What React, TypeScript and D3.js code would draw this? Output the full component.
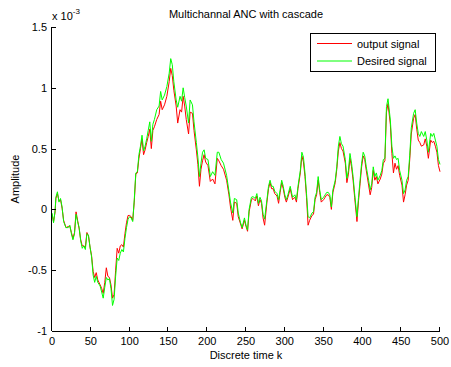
import React from "react";
import * as d3 from "d3";

const sampleK = [0,2,4,5,7,9,11,13,15,18,21,23,25,27,29,31,33,35,37,39,41,43,45,47,49,51,53,55,57,59,62,64,66,68,70,72,74,76,78,80,82,84,86,88,90,92,94,96,98,100,102,104,106,108,110,112,114,116,118,120,122,124,126,128,130,132,135,138,140,142,145,148,151,153,155,157,160,162,165,167,169,171,173,176,178,181,183,186,188,190,192,194,196,198,201,204,207,210,213,215,218,221,225,228,230,233,235,238,240,243,245,248,250,252,254,257,259,262,264,266,268,270,272,274,277,279,281,283,285,287,290,292,294,296,298,300,302,304,307,310,313,315,317,320,322,324,326,328,330,332,335,337,339,341,343,345,347,350,352,354,356,358,360,362,365,367,369,371,373,375,378,380,382,384,386,388,390,393,395,397,399,401,403,405,408,410,412,414,416,418,420,423,425,427,429,431,433,436,438,440,442,444,446,448,451,453,455,457,459,461,463,466,468,470,472,474,476,479,481,483,485,488,490,492,494,496,498,500];

// Desired signal (x 1e-3)
const desired = [-0.03,-0.11,-0.01,0.10,0.145,0.06,0.09,0.02,-0.10,-0.15,-0.15,-0.13,-0.20,-0.25,-0.20,-0.04,-0.10,-0.15,-0.26,-0.32,-0.30,-0.33,-0.20,-0.21,-0.31,-0.39,-0.54,-0.60,-0.55,-0.60,-0.63,-0.68,-0.73,-0.64,-0.56,-0.58,-0.57,-0.65,-0.79,-0.74,-0.55,-0.40,-0.42,-0.36,-0.33,-0.35,-0.24,-0.15,-0.08,-0.06,-0.07,-0.10,0.08,0.30,0.31,0.45,0.52,0.61,0.48,0.52,0.58,0.65,0.72,0.56,0.70,0.74,0.82,0.85,0.97,0.90,0.94,1.01,1.12,1.24,1.19,1.05,0.90,0.84,0.93,0.89,1.00,0.92,0.85,0.71,0.90,0.86,0.72,0.55,0.43,0.27,0.38,0.47,0.49,0.42,0.41,0.27,0.31,0.28,0.47,0.47,0.41,0.38,0.28,0.15,0.06,-0.03,0.09,0.08,-0.03,-0.11,-0.15,-0.07,-0.13,-0.17,0.00,0.10,0.105,0.09,0.13,0.05,0.10,0.07,-0.04,-0.08,0.08,0.19,0.24,0.19,0.19,0.15,0.13,0.08,0.16,0.24,0.19,0.12,0.08,0.12,0.19,0.10,0.12,0.08,0.19,0.32,0.47,0.43,0.30,0.13,-0.06,-0.07,-0.03,-0.02,0.10,0.14,0.27,0.16,0.08,0.10,0.12,0.14,0.14,0.12,0.02,0.16,0.24,0.35,0.52,0.60,0.54,0.52,0.41,0.255,0.32,0.46,0.38,0.27,0.13,-0.06,0.10,0.24,0.38,0.47,0.44,0.35,0.24,0.16,0.21,0.35,0.27,0.30,0.24,0.28,0.32,0.41,0.42,0.845,0.91,0.735,0.52,0.42,0.44,0.41,0.42,0.32,0.24,0.13,0.16,0.24,0.27,0.445,0.67,0.79,0.82,0.71,0.625,0.60,0.64,0.60,0.64,0.57,0.47,0.625,0.60,0.625,0.57,0.52,0.41,0.37];

// Output signal (x 1e-3)
const output = [-0.04,-0.10,-0.02,0.09,0.13,0.07,0.08,0.01,-0.09,-0.15,-0.14,-0.14,-0.19,-0.24,-0.19,-0.02,-0.09,-0.16,-0.25,-0.30,-0.30,-0.31,-0.19,-0.22,-0.31,-0.38,-0.51,-0.56,-0.52,-0.58,-0.62,-0.65,-0.69,-0.60,-0.48,-0.55,-0.56,-0.62,-0.73,-0.70,-0.50,-0.32,-0.36,-0.30,-0.29,-0.31,-0.20,-0.11,-0.05,-0.05,-0.06,-0.09,0.06,0.29,0.30,0.42,0.50,0.58,0.45,0.49,0.55,0.60,0.66,0.50,0.65,0.68,0.74,0.78,0.89,0.82,0.86,0.93,1.05,1.16,1.10,0.98,0.85,0.71,0.82,0.80,0.93,0.85,0.74,0.62,0.80,0.79,0.65,0.49,0.37,0.19,0.33,0.40,0.45,0.39,0.36,0.23,0.25,0.21,0.42,0.40,0.36,0.33,0.24,0.12,0.02,-0.09,0.06,0.05,-0.06,-0.12,-0.16,-0.09,-0.14,-0.18,-0.02,0.08,0.09,0.07,0.11,0.03,0.08,0.05,-0.07,-0.13,0.06,0.17,0.22,0.17,0.17,0.13,0.11,0.05,0.14,0.22,0.17,0.10,0.06,0.10,0.17,0.08,0.10,0.06,0.17,0.30,0.44,0.39,0.27,0.10,-0.13,-0.09,-0.05,-0.04,0.08,0.12,0.24,0.14,0.06,0.08,0.10,0.12,0.12,0.10,0.00,0.14,0.22,0.33,0.48,0.55,0.50,0.48,0.38,0.22,0.29,0.42,0.35,0.24,0.10,-0.10,0.07,0.21,0.35,0.44,0.41,0.32,0.20,0.12,0.18,0.32,0.24,0.27,0.21,0.25,0.29,0.38,0.40,0.80,0.87,0.70,0.46,0.30,0.38,0.33,0.36,0.28,0.20,0.06,0.12,0.20,0.24,0.41,0.62,0.75,0.78,0.66,0.57,0.55,0.52,0.53,0.58,0.52,0.42,0.57,0.55,0.56,0.52,0.47,0.36,0.31];

const xTicks = [0, 50, 100, 150, 200, 250, 300, 350, 400, 450, 500];
const yTicks = [-1, -0.5, 0, 0.5, 1, 1.5];
const legendLabels = ["output signal", "Desired signal"];
const seriesColors = ["#ff0000", "#00ff00"];

const W = 451;
const H = 367;
const margin = { left: 52, right: 11, top: 27, bottom: 36 };
const FONT = "'Liberation Sans', Arial, sans-serif";

export default function App() {
  const x = d3.scaleLinear().domain([0, 500]).range([margin.left, W - margin.right]);
  const y = d3.scaleLinear().domain([-1, 1.5]).range([H - margin.bottom, margin.top]);
  const line = d3
    .line<number>()
    .x((_, i) => x(sampleK[i]))
    .y((d) => y(d));
  const series = [output, desired];
  const x0 = x(0);
  const y0 = y(-1);
  const tick = 4;
  const lx = 310, ly = 33, lw = 125, lh = 38;
  return (
    <svg
      width={W}
      height={H}
      style={{ position: "absolute", left: 0, top: 0, background: "#fff" }}
      fontFamily={FONT}
      fontSize={11}
    >
      <rect x={0} y={0} width={W} height={H} fill="#fff" />
      {series.map((s, i) => (
        <path key={i} d={line(s) || ""} fill="none" stroke={seriesColors[i]} strokeWidth={1} strokeLinejoin="round" />
      ))}
      {/* axes */}
      <line x1={x0} x2={x(500)} y1={y0 + 0.5} y2={y0 + 0.5} stroke="#000" />
      <line x1={x0 - 0.5} x2={x0 - 0.5} y1={y(1.5)} y2={y0} stroke="#000" />
      {xTicks.map((t) => (
        <g key={"x" + t}>
          <line x1={Math.round(x(t)) - 0.5} x2={Math.round(x(t)) - 0.5} y1={y0} y2={y0 - tick} stroke="#000" />
          <text x={x(t)} y={y0 + 14} textAnchor="middle" fill="#000">{t}</text>
        </g>
      ))}
      {yTicks.map((t) => (
        <g key={"y" + t}>
          <line x1={x0} x2={x0 + tick} y1={Math.round(y(t)) + 0.5} y2={Math.round(y(t)) + 0.5} stroke="#000" />
          <text x={x0 - 5} y={y(t) + 4} textAnchor="end" fill="#000">{t}</text>
        </g>
      ))}
      <text x={x0} y={20} fill="#000">
        x 10
        <tspan dy={-6} fontSize={8}>-3</tspan>
      </text>
      <text x={(x0 + x(500)) / 2} y={18} textAnchor="middle" fill="#000">Multichannal ANC with cascade</text>
      <text x={(x0 + x(500)) / 2} y={359} textAnchor="middle" fill="#000">Discrete time k</text>
      <text transform={`translate(19, ${(y(1.5) + y0) / 2}) rotate(-90)`} textAnchor="middle" fill="#000">Amplitude</text>
      {/* legend */}
      <rect x={lx + 0.5} y={ly + 0.5} width={lw} height={lh} fill="#fff" stroke="#000" strokeWidth={1} />
      {legendLabels.map((lab, i) => (
        <g key={lab}>
          <line x1={lx + 7} x2={lx + 42} y1={ly + 10.5 + i * 17.5} y2={ly + 10.5 + i * 17.5} stroke={seriesColors[i]} />
          <text x={lx + 47} y={ly + 14.5 + i * 17.5} fill="#000">{lab}</text>
        </g>
      ))}
    </svg>
  );
}
